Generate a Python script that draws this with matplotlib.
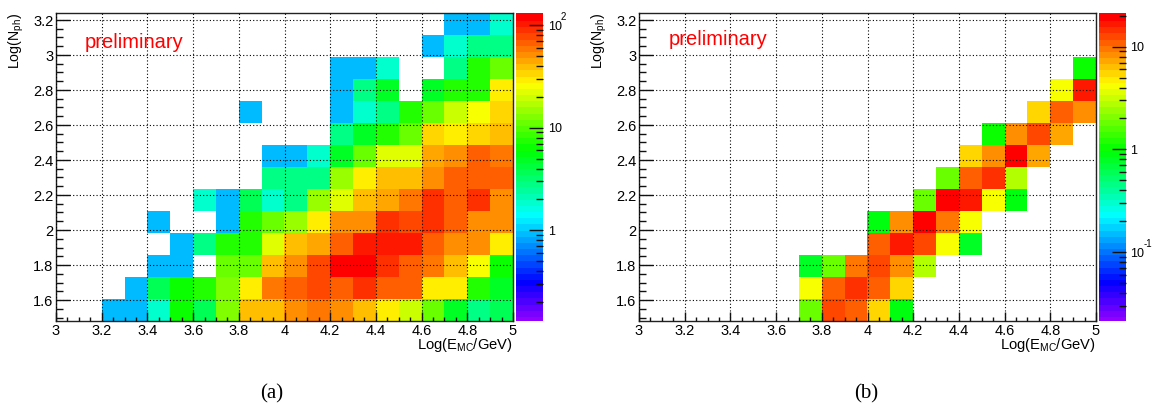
import colorsys
import numpy as np
import matplotlib
matplotlib.use("Agg")
import matplotlib.pyplot as plt
from matplotlib.colors import ListedColormap, LogNorm
from matplotlib.ticker import FixedLocator, NullFormatter

plt.rcParams['font.family'] = ['Liberation Sans', 'DejaVu Sans']
plt.rcParams['mathtext.fontset'] = 'custom'
plt.rcParams['mathtext.rm'] = 'Liberation Sans'
plt.rcParams['mathtext.default'] = 'regular'

x_edges = [3.0 + 0.1 * i for i in range(21)]
y_edges = [1.48 + 0.1257142857 * i for i in range(15)]

# rows go bottom to top, columns 3.0 to 4.9, 0 means empty bin
counts_a = [
    [0, 0, 1, 1, 2, 7, 4, 14, 40, 43, 55, 63, 55, 43, 30, 20, 11, 5, 3, 4],
    [0, 0, 0, 1, 4, 7, 8, 14, 32, 63, 74, 82, 72, 95, 68, 68, 30, 30, 8, 5],
    [0, 0, 0, 0, 1, 1, 0, 11, 12, 40, 51, 82, 120, 125, 95, 74, 63, 40, 26, 7],
    [0, 0, 0, 0, 0, 1, 3, 8, 8, 22, 40, 48, 74, 107, 107, 107, 68, 55, 51, 32],
    [0, 0, 0, 0, 1, 0, 0, 1, 8, 11, 16, 32, 51, 55, 95, 85, 95, 74, 55, 55],
    [0, 0, 0, 0, 0, 0, 2, 1, 4, 2, 3, 16, 22, 43, 48, 63, 95, 68, 92, 55],
    [0, 0, 0, 0, 0, 0, 0, 0, 0, 3, 3, 3, 16, 30, 38, 43, 55, 66, 74, 74],
    [0, 0, 0, 0, 0, 0, 0, 0, 0, 1, 1, 2, 5, 12, 22, 22, 46, 55, 68, 58],
    [0, 0, 0, 0, 0, 0, 0, 0, 0, 0, 0, 0, 3, 5, 8, 12, 35, 30, 34, 43],
    [0, 0, 0, 0, 0, 0, 0, 0, 1, 0, 0, 0, 1, 2, 3, 8, 12, 19, 26, 36],
    [0, 0, 0, 0, 0, 0, 0, 0, 0, 0, 0, 0, 1, 3, 5, 0, 5, 8, 8, 32],
    [0, 0, 0, 0, 0, 0, 0, 0, 0, 0, 0, 0, 1, 1, 2, 0, 0, 3, 8, 12],
    [0, 0, 0, 0, 0, 0, 0, 0, 0, 0, 0, 0, 0, 0, 0, 0, 1, 2, 3, 3],
    [0, 0, 0, 0, 0, 0, 0, 0, 0, 0, 0, 0, 0, 0, 0, 0, 0, 1, 1, 2],
]
counts_b = [
    [0, 0, 0, 0, 0, 0, 0, 2.0, 14, 12, 5.5, 1.0, 0, 0, 0, 0, 0, 0, 0, 0],
    [0, 0, 0, 0, 0, 0, 0, 4.5, 12, 15, 11, 5.5, 0, 0, 0, 0, 0, 0, 0, 0],
    [0, 0, 0, 0, 0, 0, 0, 0.8, 2.0, 10, 13, 9, 3.0, 0, 0, 0, 0, 0, 0, 0],
    [0, 0, 0, 0, 0, 0, 0, 0, 0, 0, 12, 17, 13, 4.5, 0.8, 0, 0, 0, 0, 0],
    [0, 0, 0, 0, 0, 0, 0, 0, 0, 0, 0.9, 9, 20, 10, 4.5, 0, 0, 0, 0, 0],
    [0, 0, 0, 0, 0, 0, 0, 0, 0, 0, 0, 0, 2.0, 20, 17, 4.5, 0.9, 0, 0, 0],
    [0, 0, 0, 0, 0, 0, 0, 0, 0, 0, 0, 0, 0, 2.0, 11, 15, 3.0, 0, 0, 0],
    [0, 0, 0, 0, 0, 0, 0, 0, 0, 0, 0, 0, 0, 0, 5.5, 9, 20, 8, 0, 0],
    [0, 0, 0, 0, 0, 0, 0, 0, 0, 0, 0, 0, 0, 0, 0, 1.1, 9, 13, 7.5, 0],
    [0, 0, 0, 0, 0, 0, 0, 0, 0, 0, 0, 0, 0, 0, 0, 0, 0, 5.5, 12, 9],
    [0, 0, 0, 0, 0, 0, 0, 0, 0, 0, 0, 0, 0, 0, 0, 0, 0, 0, 4.5, 17],
    [0, 0, 0, 0, 0, 0, 0, 0, 0, 0, 0, 0, 0, 0, 0, 0, 0, 0, 0, 1.1],
    [0] * 20,
    [0] * 20,
]

# ROOT "pretty" palette, 50 steps of hue
palette = [colorsys.hls_to_rgb((280 - (i + 1) * 280 / 50) / 360, 0.5, 1) for i in range(50)]
cmap = ListedColormap(palette)
W, H = 1157, 408


def draw(counts, ax_left, cb_left, cb_width, vmin, vmax, major, labels, exponents, tag, tag_x, prelim_x, prelim_y):
    ax = fig.add_axes([ax_left / W, (H - 321) / H, 457 / W, 308 / H])
    cax = fig.add_axes([cb_left / W, (H - 321) / H, cb_width / W, 308 / H])
    z = np.ma.masked_less_equal(np.array(counts, dtype=float), 0)
    mesh = ax.pcolormesh(x_edges, y_edges, z, cmap=cmap, norm=LogNorm(vmin, vmax))
    ax.set_xlim(3, 5)
    ax.set_ylim(1.48, 3.24)
    ax.set_xticks(np.arange(3, 5.01, 0.2))
    ax.set_xticklabels(['3', '3.2', '3.4', '3.6', '3.8', '4', '4.2', '4.4', '4.6', '4.8', '5'])
    ax.set_yticks(np.arange(1.6, 3.21, 0.2))
    ax.set_yticklabels(['1.6', '1.8', '2', '2.2', '2.4', '2.6', '2.8', '3', '3.2'])
    ax.set_xticks(np.arange(3, 5.01, 0.05), minor=True)
    ax.set_yticks(np.arange(1.5, 3.21, 0.05), minor=True)
    ax.tick_params(axis='x', which='major', direction='in', length=6.5, width=1, labelsize=10.5, pad=2.5, color='#111111')
    ax.tick_params(axis='x', which='minor', direction='in', length=3.2, width=1, color='#111111')
    ax.tick_params(axis='y', which='major', direction='in', length=10, width=1, labelsize=10.5, pad=2, color='#111111')
    ax.tick_params(axis='y', which='minor', direction='in', length=5, width=1, color='#111111')
    ax.grid(True, which='major', color='black', linestyle=(0, (1, 2)), linewidth=0.8)
    ax.set_axisbelow(False)
    ax.set_xlabel('Log(E$_{MC}$/GeV)', loc='right', fontsize=10.6, labelpad=-1.5)
    ax.set_ylabel('Log(N$_{ph}$)', loc='top', fontsize=10.2, labelpad=5)
    for s in ax.spines.values():
        s.set_linewidth(1)
        s.set_color('#222222')
    ax.text(prelim_x, prelim_y, 'preliminary', color='#ff0000', fontsize=14.5, va='center', ha='left')

    cb = fig.colorbar(mesh, cax=cax)
    cb.outline.set_visible(False)
    cb.solids.set_edgecolor('face')
    minors = [m * 10.0 ** e for e in range(-2, 3) for m in range(2, 10)]
    cax.yaxis.set_major_locator(FixedLocator(major))
    cax.yaxis.set_minor_locator(FixedLocator([m for m in minors if vmin < m < vmax]))
    cax.yaxis.set_minor_formatter(NullFormatter())
    cax.set_yticklabels(labels)
    cax.tick_params(axis='y', which='major', direction='in', length=10, width=1, labelsize=9, pad=3.5, color='#111111')
    cax.tick_params(axis='y', which='minor', direction='in', length=5, width=1, color='#111111')
    # exponents as their own small text, the mathtext minus is too wide here
    for val, exp in zip(major, exponents):
        if exp:
            cax.annotate(exp, xy=(1, val), xycoords=('axes fraction', 'data'), xytext=(13, 2),
                         textcoords='offset points', fontsize=7, va='bottom', ha='left')
    fig.text(tag_x / W, (H - 394) / H, tag, family=['Liberation Serif'], fontsize=15, ha='center', va='center')


fig = plt.figure(figsize=(W / 100, H / 100), dpi=100)
draw(counts_a, 56, 516, 27, 0.131, 131, [1, 10, 100], ['1', '10', '10'], ['', '', '2'], '(a)', 272, 3.127, 3.07)
draw(counts_b, 639, 1099, 26.5, 0.0213, 21.3, [0.1, 1, 10], ['10', '1', '10'], ['-1', '', ''], '(b)', 866, 3.13, 3.09)
fig.savefig("out.png", dpi=100)
